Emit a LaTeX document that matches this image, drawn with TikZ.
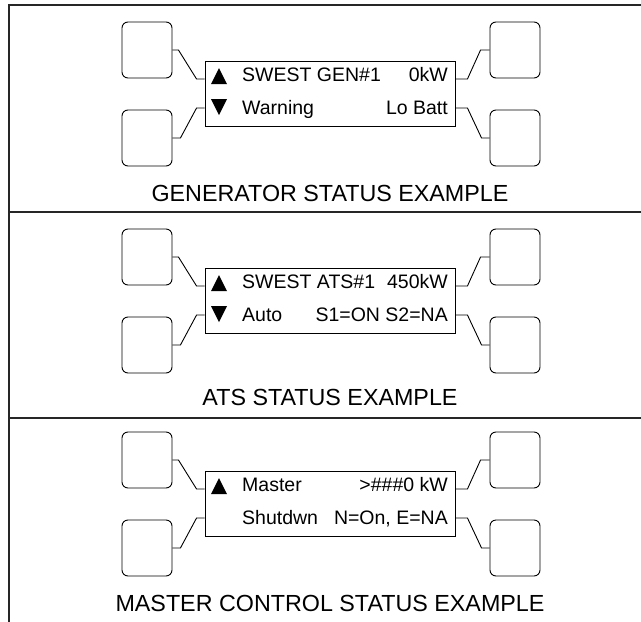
\documentclass[tikz,border=0pt]{standalone}
\usepackage{fontspec}
\setmainfont{Liberation Sans}
\tikzset{
  btn/.style={draw, rounded corners=6pt, minimum width=50pt, minimum height=56pt, inner sep=0pt, line width=0.9pt},
  lcd/.style={draw, minimum width=250pt, minimum height=65pt, inner sep=0pt, line width=0.9pt},
  wire/.style={line width=0.9pt, line join=miter},
  frameline/.style={line width=1.6pt, draw=black!85},
  lcdtxt/.style={inner sep=0pt, font=\fontsize{19.5}{20}\selectfont},
  captxt/.style={inner sep=0pt, font=\fontsize{23.3}{25}\selectfont, anchor=base},
}
% #1 T (box top), #2 id, #3 row1 left, #4 row1 right, #5 row2 left, #6 row2 right, #7 caption, #8 caption baseline
\newcommand\dpanel[8]{%
  \node[lcd] (#2box) at (330,#1+32.5) {};
  \node[btn] (#2tl) at (147,#1-11) {};
  \node[btn] (#2bl) at (147,#1+77) {};
  \node[btn] (#2tr) at (515,#1-11) {};
  \node[btn] (#2br) at (515,#1+77) {};
  \coordinate (#2l1) at (#2box.west |- 0,#1+18);
  \coordinate (#2l2) at (#2box.west |- 0,#1+47);
  \coordinate (#2r1) at (#2box.east |- 0,#1+18);
  \coordinate (#2r2) at (#2box.east |- 0,#1+47);
  \draw[wire] (#2tl.east) -- ++(6,0) -- ([xshift=-8pt]#2l1) -- (#2l1);
  \draw[wire] (#2l2) -- ++(-8,0) -- ([xshift=8pt]#2bl.east) -- (#2bl.east);
  \draw[wire] (#2r1) -- ++(12,0) -- ([xshift=-9pt]#2tr.west) -- (#2tr.west);
  \draw[wire] (#2r2) -- ++(12,0) -- ([xshift=-8pt]#2br.west) -- (#2br.west);
  \fill (211,#1+23) -- (227,#1+23) -- (219,#1+7) -- cycle;
  \node[lcdtxt, anchor=base west] (#2ta) at (242,#1+20) {#3};
  \node[lcdtxt, anchor=base east] (#2tb) at (448,#1+20) {#4};
  \node[lcdtxt, anchor=base west] (#2tc) at (242,#1+53) {#5};
  \node[lcdtxt, anchor=base east] (#2td) at (448,#1+53) {#6};
  \node[captxt] (#2cap) at (330,#8) {#7};
}
\begin{document}
\begin{tikzpicture}[x=1pt, y=-1pt]
  \useasboundingbox (0,0) rectangle (641,622);
  \draw[frameline] (9,622) -- (9,5) -- (641,5);
  \draw[frameline] (9,212) -- (641,212);
  \draw[frameline] (9,418) -- (641,418);
  \dpanel{61}{g}{SWEST GEN\#1}{0kW}{Warning}{Lo Batt}{GENERATOR STATUS EXAMPLE}{201}
  \fill (211,61+38) -- (227,61+38) -- (219,61+54) -- cycle;
  \dpanel{268}{a}{SWEST ATS\#1}{450kW}{Auto}{S1=ON S2=NA}{ATS STATUS EXAMPLE}{405}
  \fill (211,268+38) -- (227,268+38) -- (219,268+54) -- cycle;
  \dpanel{471}{m}{Master}{>\#\#\#0 kW}{Shutdwn}{N=On, E=NA}{MASTER CONTROL STATUS EXAMPLE}{611}
\end{tikzpicture}
\end{document}
